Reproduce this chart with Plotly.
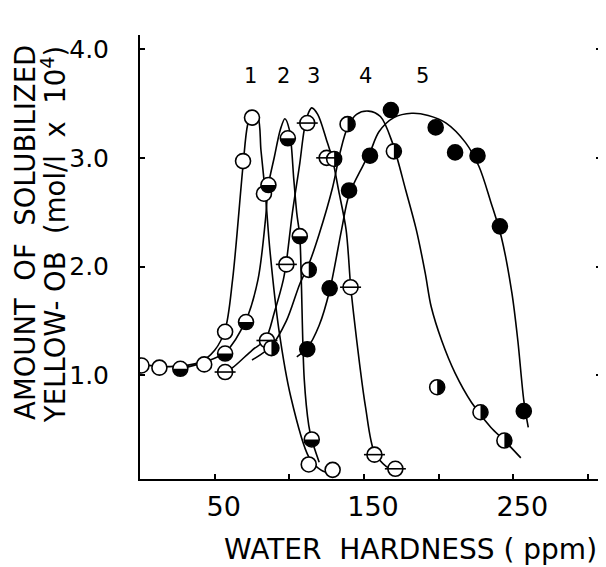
import numpy as np
import plotly.graph_objects as go

# ---------------- data ----------------
# measured points: water hardness (ppm) vs solubilized Yellow-OB (mol/l x 10^4)
s1_x = [1, 13, 43, 57, 69, 75, 83, 113, 129]            # 1: open circles
s1_y = [1.09, 1.07, 1.10, 1.40, 2.97, 3.37, 2.67, 0.18, 0.13]
s2_x = [27, 57, 71, 86, 99, 107, 115]                    # 2: lower half black
s2_y = [1.06, 1.20, 1.49, 2.75, 3.18, 2.28, 0.41]
s3_x = [57, 85, 98, 112, 125, 141, 157, 171]             # 3: circle with bar
s3_y = [1.03, 1.32, 2.02, 3.32, 3.00, 1.81, 0.27, 0.14]
s4_x = [88, 113, 130, 139, 170, 199, 228, 244]           # 4: right half black
s4_y = [1.25, 1.97, 2.99, 3.31, 3.06, 0.89, 0.66, 0.40]
s5_x = [112, 127, 140, 154, 168, 198, 211, 226, 241, 257]  # 5: filled
s5_y = [1.24, 1.80, 2.70, 3.02, 3.44, 3.28, 3.05, 3.02, 2.37, 0.67]

# hand-drawn smooth curves (vertices)
c1_x = [0, 20, 40, 50, 57, 62, 69, 72, 75, 79, 81, 84, 87, 93, 101, 113, 121, 129]
c1_y = [1.10, 1.08, 1.12, 1.23, 1.42, 1.88, 2.93, 3.30, 3.42, 3.37, 3.07, 2.66, 2.15, 1.42, 0.80, 0.25, 0.13, 0.09]
c2_x = [27, 43, 57, 71, 79, 84, 86, 90, 94, 97, 100, 103, 105, 107, 108, 110, 113, 115, 120]
c2_y = [1.06, 1.12, 1.21, 1.51, 1.88, 2.43, 2.75, 3.01, 3.26, 3.36, 3.26, 2.80, 2.49, 2.28, 1.88, 0.96, 0.54, 0.41, 0.20]
c3_x = [57, 62, 75, 84, 90, 96, 98, 102, 107, 110, 113, 115, 119, 125, 129, 133, 138, 141, 143, 147, 151, 157, 165, 171]
c3_y = [1.03, 1.07, 1.23, 1.33, 1.58, 1.88, 2.04, 2.49, 2.95, 3.26, 3.42, 3.46, 3.40, 3.16, 2.98, 2.70, 2.34, 1.83, 1.57, 1.11, 0.71, 0.29, 0.16, 0.12]
c4_x = [75, 88, 98, 107, 113, 120, 129, 134, 139, 145, 153, 161, 169, 178, 185, 191, 195, 202, 211, 222, 235, 244, 255]
c4_y = [1.14, 1.27, 1.50, 1.84, 2.02, 2.30, 2.73, 3.05, 3.28, 3.40, 3.43, 3.38, 3.14, 2.70, 2.34, 1.94, 1.63, 1.32, 1.02, 0.75, 0.52, 0.40, 0.24]
c5_x = [105, 112, 120, 127, 135, 140, 149, 154, 160, 170, 182, 193, 205, 218, 227, 235, 242, 249, 253, 257, 260]
c5_y = [1.17, 1.25, 1.46, 1.78, 2.34, 2.66, 2.92, 3.05, 3.24, 3.37, 3.41, 3.39, 3.32, 3.14, 2.92, 2.59, 2.27, 1.76, 1.32, 0.77, 0.52]

curve_labels = ["1", "2", "3", "4", "5"]
label_x = [74, 96, 116, 151, 189]
label_y = [3.75, 3.75, 3.75, 3.75, 3.75]

x_tickvals = [50, 150, 250]
x_ticktext = ["50", "150", "250"]
x_minor_ticks = [100, 200, 300]
y_tickvals = [1, 2, 3, 4]
y_ticktext = ["1.0", "2.0", "3.0", "4.0"]

# ---------------- figure ----------------
# the page body has an 8 px default margin, so the figure is sized/offset to compensate
FONT = "DejaVu Sans"
MS = 15
fig = go.Figure()

for cx, cy in [(c1_x, c1_y), (c2_x, c2_y), (c3_x, c3_y), (c4_x, c4_y), (c5_x, c5_y)]:
    fig.add_trace(go.Scatter(x=cx, y=cy, mode="lines",
                             line=dict(color="black", width=1.6, shape="spline", smoothing=0.9),
                             hoverinfo="skip"))

open_marker = dict(symbol="circle", size=MS, color="white", line=dict(color="black", width=1.6))
for sx, sy in [(s1_x, s1_y), (s2_x, s2_y), (s3_x, s3_y), (s4_x, s4_y)]:
    fig.add_trace(go.Scatter(x=sx, y=sy, mode="markers", marker=open_marker))
fig.add_trace(go.Scatter(x=s3_x, y=s3_y, mode="markers",
                         marker=dict(symbol="line-ew", size=MS, line=dict(color="black", width=1.6))))
fig.add_trace(go.Scatter(x=s5_x, y=s5_y, mode="markers",
                         marker=dict(symbol="circle", size=MS, color="black", line=dict(color="black", width=1.6))))


def half_path(r, a0, a1, n=25):
    t = np.linspace(a0, a1, n)
    pts = " L ".join(f"{r*np.cos(a):.2f},{r*np.sin(a):.2f}" for a in t)
    return "M " + pts + " Z"


R = 7.2
lower_half = half_path(R, np.pi, 2 * np.pi)
right_half = half_path(R, -np.pi / 2, np.pi / 2)
shapes = []
for xs, ys, p in [(s2_x, s2_y, lower_half), (s4_x, s4_y, right_half)]:
    for xv, yv in zip(xs, ys):
        shapes.append(dict(type="path", xref="x", yref="y", xsizemode="pixel", ysizemode="pixel",
                           xanchor=xv, yanchor=yv, path=p, fillcolor="black",
                           line=dict(width=0), layer="above"))

annotations = []
for t, xv, yv in zip(curve_labels, label_x, label_y):
    annotations.append(dict(x=xv, y=yv, xref="x", yref="y", text=t, showarrow=False,
                            font=dict(family=FONT, size=21, color="black")))
annotations.append(dict(x=-0.25, y=0.556, xref="paper", yref="paper", text="AMOUNT  OF  SOLUBILIZED",
                        textangle=-90, showarrow=False, xanchor="center", yanchor="middle",
                        font=dict(family=FONT, size=27.5, color="black")))
annotations.append(dict(x=-0.188, y=0.55, xref="paper", yref="paper",
                        text="YELLOW- OB  (mol/l  x  10<sup>4</sup>)",
                        textangle=-90, showarrow=False, xanchor="center", yanchor="middle",
                        font=dict(family=FONT, size=27.5, color="black")))
annotations.append(dict(x=0.587, y=-0.158, xref="paper", yref="paper", text="WATER  HARDNESS ( ppm)",
                        showarrow=False, xanchor="center", yanchor="middle",
                        font=dict(family=FONT, size=28, color="black")))

fig.update_layout(
    width=598, height=559,
    margin=dict(l=132, r=3, t=27, b=88),
    plot_bgcolor="white", paper_bgcolor="white",
    showlegend=False,
    font=dict(family=FONT, color="black"),
    shapes=shapes, annotations=annotations,
    xaxis=dict(range=[0, 308.7], tickvals=x_tickvals, ticktext=x_ticktext,
               ticks="inside", ticklen=5, tickwidth=1.5, tickcolor="black",
               minor=dict(tickvals=x_minor_ticks, ticks="inside", ticklen=5, tickwidth=1.5, tickcolor="black"),
               showline=True, linewidth=2, linecolor="black", mirror=False,
               showgrid=False, zeroline=False,
               tickfont=dict(family=FONT, size=27, color="black"),
               ticklabelshift=9, ticklabelstandoff=3),
    yaxis=dict(range=[0.046, 4.13], tickvals=y_tickvals, ticktext=y_ticktext,
               ticks="inside", ticklen=5, tickwidth=1.5, tickcolor="black",
               showline=True, linewidth=2, linecolor="black", mirror="ticks",
               showgrid=False, zeroline=False,
               tickfont=dict(family=FONT, size=25, color="black"),
               ticklabelstandoff=24),
)

fig.write_html("out.html")
